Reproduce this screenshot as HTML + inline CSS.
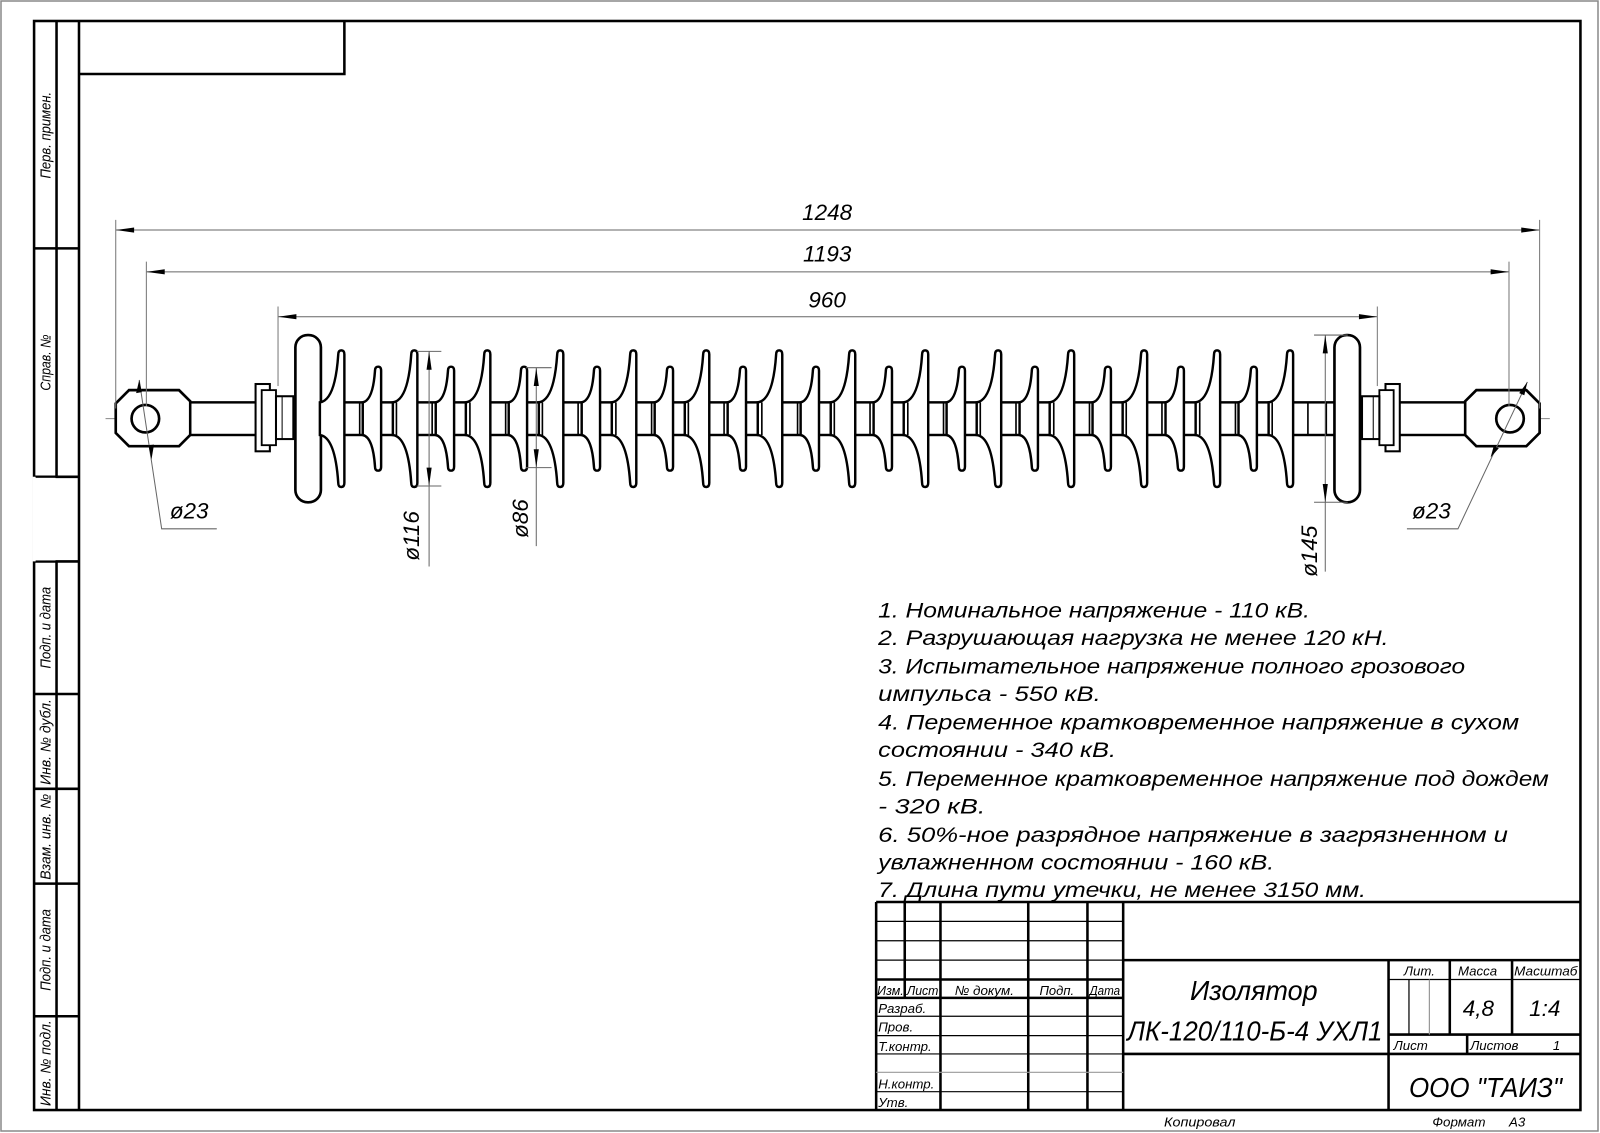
<!DOCTYPE html>
<html><head><meta charset="utf-8"><style>
html,body{margin:0;padding:0;background:#fff;}
svg{display:block;}
text{font-family:"Liberation Sans",sans-serif;font-style:italic;fill:#000;}
</style></head><body>
<svg width="1600" height="1133" viewBox="0 0 1600 1133" xmlns="http://www.w3.org/2000/svg">
<rect x="1" y="1" width="1597" height="1130" fill="none" stroke="#888" stroke-width="1.5"/>
<defs>
<path id="L" d="M-22,394 Q-7,392 -4,347 Q-4,343 -1,343 Q2,343 2,347 L2,473 Q2,477 -1,477 Q-4,477 -4,473 Q-7,428 -22,426 Z" fill="#fff" stroke="#000" stroke-width="2.4"/>
<path id="S" d="M-16,394 Q-6,392 -4,363 Q-4,359 -1,359 Q2,359 2,363 L2,457 Q2,461 -1,461 Q-4,461 -4,457 Q-6,428 -16,426 Z" fill="#fff" stroke="#000" stroke-width="2.4"/>
<g id="END">
<polygon points="113,395 126,382 175,382 186,393 186,426 175,437 126,437 113,424" fill="#fff" stroke="#000" stroke-width="2.6"/>
<circle cx="142" cy="410" r="13.5" fill="#fff" stroke="#000" stroke-width="2.6"/>
<rect x="186" y="394" width="66" height="32" fill="#fff" stroke="#000" stroke-width="2.4"/>
<rect x="250" y="376" width="14" height="66" fill="#fff" stroke="#000" stroke-width="2"/>
<rect x="256" y="382" width="14" height="54" fill="#fff" stroke="#000" stroke-width="1.8"/>
<rect x="270" y="388" width="17" height="42" fill="#fff" stroke="#000" stroke-width="2"/>
<line x1="276" y1="388" x2="276" y2="430" stroke="#000" stroke-width="1"/>
<rect x="289" y="328" width="25" height="164" rx="12" fill="#fff" stroke="#000" stroke-width="2.6"/>
<line x1="113" y1="215" x2="113" y2="400" stroke="#777" stroke-width="1"/>
<line x1="143" y1="256" x2="143" y2="398" stroke="#777" stroke-width="1"/>
<line x1="272" y1="300" x2="272" y2="378" stroke="#777" stroke-width="1"/>
</g>
</defs>
<g transform="translate(0.4,0.6) scale(1.0207,1.0197)">
<g stroke="#000" stroke-width="2.5" fill="none">
<rect x="33" y="20" width="1515" height="1068"/>
<line x1="77" y1="20" x2="77" y2="1088"/>
<line x1="55" y1="20" x2="55" y2="467"/>
<line x1="55" y1="550" x2="55" y2="1088"/>
<line x1="33" y1="243" x2="77" y2="243"/>
<line x1="33" y1="467" x2="77" y2="467"/>
<line x1="33" y1="550" x2="77" y2="550"/>
<line x1="33" y1="680" x2="77" y2="680"/>
<line x1="33" y1="773" x2="77" y2="773"/>
<line x1="33" y1="866" x2="77" y2="866"/>
<line x1="33" y1="996" x2="77" y2="996"/>
<polyline points="77,72 337,72 337,20"/>
</g>
<rect x="32" y="468" width="22" height="81" fill="#fff"/>
<line x1="33" y1="467" x2="33" y2="550" stroke="#fff" stroke-width="3"/>
<g font-size="14">
<text transform="translate(49,132) rotate(-90)" text-anchor="middle" textLength="85" lengthAdjust="spacingAndGlyphs">Перв. примен.</text>
<text transform="translate(49,355) rotate(-90)" text-anchor="middle" textLength="55" lengthAdjust="spacingAndGlyphs">Справ. №</text>
<text transform="translate(49,615) rotate(-90)" text-anchor="middle" textLength="80" lengthAdjust="spacingAndGlyphs">Подп. и дата</text>
<text transform="translate(49,727) rotate(-90)" text-anchor="middle" textLength="84" lengthAdjust="spacingAndGlyphs">Инв. № дубл.</text>
<text transform="translate(49,820) rotate(-90)" text-anchor="middle" textLength="84" lengthAdjust="spacingAndGlyphs">Взам. инв. №</text>
<text transform="translate(49,931) rotate(-90)" text-anchor="middle" textLength="80" lengthAdjust="spacingAndGlyphs">Подп. и дата</text>
<text transform="translate(49,1042) rotate(-90)" text-anchor="middle" textLength="84" lengthAdjust="spacingAndGlyphs">Инв. № подл.</text>
</g>

<line x1="103" y1="410" x2="1518" y2="410" stroke="#888" stroke-width="1" stroke-dasharray="40,5,4,5"/>

<g stroke="#666" stroke-width="1">
<line x1="113" y1="225" x2="1508" y2="225"/>
<line x1="143" y1="266" x2="1478" y2="266"/>
<line x1="272" y1="310" x2="1349" y2="310"/>
</g>
<g fill="#000">
<polygon points="113,225 131,222.5 131,227.5"/><polygon points="1508,225 1490,222.5 1490,227.5"/>
<polygon points="143,266 161,263.5 161,268.5"/><polygon points="1478,266 1460,263.5 1460,268.5"/>
<polygon points="272,310 290,307.5 290,312.5"/><polygon points="1349,310 1331,307.5 1331,312.5"/>
</g>
<g font-size="22" text-anchor="middle">
<text x="810" y="215">1248</text>
<text x="810" y="256">1193</text>
<text x="810" y="301">960</text>
</g>

<rect x="312" y="394" width="997" height="32" fill="#fff" stroke="#000" stroke-width="2.4"/>
<g stroke="#000" stroke-width="1.6">
<line x1="322" y1="394" x2="322" y2="426"/><line x1="1299" y1="394" x2="1299" y2="426"/>
</g>
<use href="#END"/>
<use href="#END" transform="translate(1621,0) scale(-1,1)"/>

<use href="#L" x="335"/><use href="#S" x="371"/>
<use href="#L" x="406.5"/><use href="#S" x="442.5"/>
<use href="#L" x="478"/><use href="#S" x="514"/>
<use href="#L" x="549.5"/><use href="#S" x="585.5"/>
<use href="#L" x="621"/><use href="#S" x="657"/>
<use href="#L" x="692.5"/><use href="#S" x="728.5"/>
<use href="#L" x="764"/><use href="#S" x="800"/>
<use href="#L" x="835.5"/><use href="#S" x="871.5"/>
<use href="#L" x="907"/><use href="#S" x="943"/>
<use href="#L" x="978.5"/><use href="#S" x="1014.5"/>
<use href="#L" x="1050"/><use href="#S" x="1086"/>
<use href="#L" x="1121.5"/><use href="#S" x="1157.5"/>
<use href="#L" x="1193"/><use href="#S" x="1229"/>
<use href="#L" x="1264.5"/>
<g stroke="#000" stroke-width="1.6">
<line x1="352" y1="394" x2="352" y2="426"/><line x1="388" y1="394" x2="388" y2="426"/>
<line x1="423" y1="394" x2="423" y2="426"/><line x1="460" y1="394" x2="460" y2="426"/>
<line x1="495" y1="394" x2="495" y2="426"/><line x1="531" y1="394" x2="531" y2="426"/>
<line x1="566" y1="394" x2="566" y2="426"/><line x1="603" y1="394" x2="603" y2="426"/>
<line x1="638" y1="394" x2="638" y2="426"/><line x1="674" y1="394" x2="674" y2="426"/>
<line x1="709" y1="394" x2="709" y2="426"/><line x1="746" y1="394" x2="746" y2="426"/>
<line x1="781" y1="394" x2="781" y2="426"/><line x1="817" y1="394" x2="817" y2="426"/>
<line x1="852" y1="394" x2="852" y2="426"/><line x1="889" y1="394" x2="889" y2="426"/>
<line x1="924" y1="394" x2="924" y2="426"/><line x1="960" y1="394" x2="960" y2="426"/>
<line x1="995" y1="394" x2="995" y2="426"/><line x1="1032" y1="394" x2="1032" y2="426"/>
<line x1="1067" y1="394" x2="1067" y2="426"/><line x1="1103" y1="394" x2="1103" y2="426"/>
<line x1="1138" y1="394" x2="1138" y2="426"/><line x1="1175" y1="394" x2="1175" y2="426"/>
<line x1="1210" y1="394" x2="1210" y2="426"/><line x1="1246" y1="394" x2="1246" y2="426"/>
<line x1="1281" y1="394" x2="1281" y2="426"/>
</g>

<g stroke="#666" stroke-width="1" fill="none">
<line x1="408" y1="344" x2="432" y2="344"/><line x1="408" y1="476" x2="432" y2="476"/>
<line x1="420" y1="344" x2="420" y2="555"/>
<line x1="515" y1="360" x2="540" y2="360"/><line x1="515" y1="458" x2="540" y2="458"/>
<line x1="525" y1="360" x2="525" y2="535"/>
<line x1="1287" y1="328" x2="1320" y2="328"/><line x1="1287" y1="492" x2="1320" y2="492"/>
<line x1="1298" y1="328" x2="1298" y2="560"/>
<polyline points="136,372 158,518 212,518"/>
<polyline points="1496,374 1428,518 1378,518"/>
</g>
<g fill="#000">
<polygon points="420,344 417.5,362 422.5,362"/><polygon points="420,476 417.5,458 422.5,458"/>
<polygon points="525,360 522.5,378 527.5,378"/><polygon points="525,458 522.5,440 527.5,440"/>
<polygon points="1298,328 1295.5,346 1300.5,346"/><polygon points="1298,492 1295.5,474 1300.5,474"/>
<polygon points="136,372 133,385 138.5,384"/><polygon points="148,450 145,436 150.5,435.5"/>
<polygon points="1496,374 1488,385 1493,387"/><polygon points="1460,448 1463,437 1468,439"/>
</g>
<g font-size="22">
<text x="166" y="508">ø23</text>
<text x="1383" y="508">ø23</text>
<text transform="translate(410,525) rotate(-90)" text-anchor="middle">ø116</text>
<text transform="translate(517,508) rotate(-90)" text-anchor="middle">ø86</text>
<text transform="translate(1290,540) rotate(-90)" text-anchor="middle">ø145</text>
</g>

<g font-size="21">
<text x="860" y="605" textLength="423" lengthAdjust="spacingAndGlyphs">1. Номинальное напряжение - 110 кВ.</text>
<text x="860" y="632" textLength="500" lengthAdjust="spacingAndGlyphs">2. Разрушающая нагрузка не менее 120 кН.</text>
<text x="860" y="660" textLength="575" lengthAdjust="spacingAndGlyphs">3. Испытательное напряжение полного грозового</text>
<text x="860" y="687" textLength="218" lengthAdjust="spacingAndGlyphs">импульса - 550 кВ.</text>
<text x="860" y="715" textLength="628" lengthAdjust="spacingAndGlyphs">4. Переменное кратковременное напряжение  в сухом</text>
<text x="860" y="742" textLength="233" lengthAdjust="spacingAndGlyphs">состоянии - 340 кВ.</text>
<text x="860" y="770" textLength="657" lengthAdjust="spacingAndGlyphs">5. Переменное кратковременное напряжение под дождем</text>
<text x="860" y="797" textLength="105" lengthAdjust="spacingAndGlyphs">- 320 кВ.</text>
<text x="860" y="825" textLength="617" lengthAdjust="spacingAndGlyphs">6. 50%-ное разрядное напряжение в загрязненном и</text>
<text x="860" y="852" textLength="388" lengthAdjust="spacingAndGlyphs">увлажненном состоянии - 160 кВ.</text>
<text x="860" y="879" textLength="478" lengthAdjust="spacingAndGlyphs">7. Длина пути утечки, не менее 3150 мм.</text>
</g>

<g stroke="#000" stroke-width="2.5" fill="none">
<line x1="858" y1="884" x2="1548" y2="884"/>
<line x1="858" y1="884" x2="858" y2="1088"/>
<line x1="886" y1="884" x2="886" y2="978"/>
<line x1="921" y1="884" x2="921" y2="1088"/>
<line x1="1007" y1="884" x2="1007" y2="1088"/>
<line x1="1065" y1="884" x2="1065" y2="1088"/>
<line x1="1100" y1="884" x2="1100" y2="1088"/>
<line x1="858" y1="960" x2="1100" y2="960"/>
<line x1="858" y1="978" x2="1100" y2="978"/>
<line x1="1100" y1="941" x2="1548" y2="941"/>
<line x1="1100" y1="1033" x2="1548" y2="1033"/>
<line x1="1360" y1="941" x2="1360" y2="1088"/>
<line x1="1420" y1="941" x2="1420" y2="1014"/>
<line x1="1481" y1="941" x2="1481" y2="1014"/>
<line x1="1360" y1="1014" x2="1548" y2="1014"/>
<line x1="1437" y1="1014" x2="1437" y2="1033"/>
</g>
<g stroke="#000" stroke-width="1.2">
<line x1="858" y1="903" x2="1100" y2="903"/>
<line x1="858" y1="922" x2="1100" y2="922"/>
<line x1="858" y1="941" x2="1100" y2="941"/>
<line x1="858" y1="996" x2="1100" y2="996"/>
<line x1="858" y1="1015" x2="1100" y2="1015"/>
<line x1="858" y1="1033" x2="1100" y2="1033"/>
<line x1="858" y1="1051" x2="1100" y2="1051" stroke="#999"/>
<line x1="858" y1="1070" x2="1100" y2="1070"/>
<line x1="1360" y1="960" x2="1548" y2="960"/>
<line x1="1380" y1="960" x2="1380" y2="1014"/>
<line x1="1400" y1="960" x2="1400" y2="1014" stroke="#999"/>
</g>
<g font-size="13">
<text x="859" y="975" textLength="26" lengthAdjust="spacingAndGlyphs">Изм.</text>
<text x="888" y="975" textLength="31" lengthAdjust="spacingAndGlyphs">Лист</text>
<text x="935" y="975" textLength="58" lengthAdjust="spacingAndGlyphs">№ докум.</text>
<text x="1018" y="975" textLength="34" lengthAdjust="spacingAndGlyphs">Подп.</text>
<text x="1067" y="975" textLength="30" lengthAdjust="spacingAndGlyphs">Дата</text>
<text x="860" y="993">Разраб.</text>
<text x="860" y="1011">Пров.</text>
<text x="860" y="1030">Т.контр.</text>
<text x="860" y="1067">Н.контр.</text>
<text x="860" y="1085">Утв.</text>
<text x="1375" y="956">Лит.</text>
<text x="1428" y="956">Масса</text>
<text x="1483" y="956" textLength="62" lengthAdjust="spacingAndGlyphs">Масштаб</text>
<text x="1365" y="1029">Лист</text>
<text x="1440" y="1029">Листов</text>
<text x="1521" y="1029">1</text>
<text x="1140" y="1104" textLength="70" lengthAdjust="spacingAndGlyphs">Копировал</text>
<text x="1403" y="1104" textLength="52" lengthAdjust="spacingAndGlyphs">Формат</text>
<text x="1478" y="1104">А3</text>
</g>
<g font-size="27" text-anchor="middle">
<text x="1228" y="980" textLength="125" lengthAdjust="spacingAndGlyphs">Изолятор</text>
<text x="1229" y="1020" textLength="250" lengthAdjust="spacingAndGlyphs">ЛК-120/110-Б-4 УХЛ1</text>
<text x="1455" y="1075" textLength="150" lengthAdjust="spacingAndGlyphs">ООО "ТАИЗ"</text>
</g>
<g font-size="22" text-anchor="middle">
<text x="1448" y="996">4,8</text>
<text x="1513" y="996">1:4</text>
</g>
</g>
</svg>
</body></html>
